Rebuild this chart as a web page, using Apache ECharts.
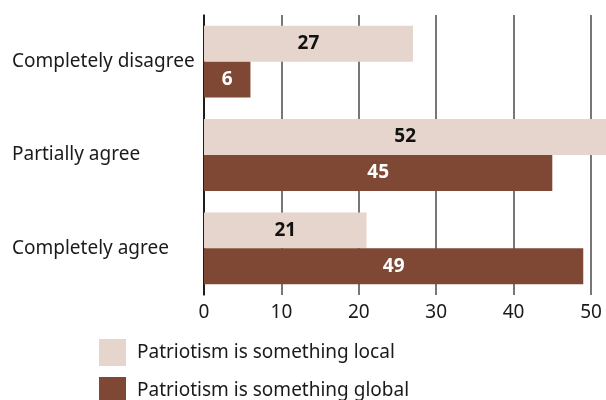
<!DOCTYPE html>
<html><head><meta charset="utf-8">
<script src="https://cdn.jsdelivr.net/npm/echarts@6/dist/echarts.min.js"></script>
<style>html,body{margin:0;padding:0;background:#fff}#c{width:606px;height:400px}</style>
</head><body><div id="c"></div>
<script>
const categories = ['Completely disagree', 'Partially agree', 'Completely agree'];
const localValues = [27, 52, 21];
const globalValues = [6, 45, 49];
const seriesNames = ['Patriotism is something local', 'Patriotism is something global'];
const xTicks = [0, 10, 20, 30, 40, 50];

const FONT = 'Noto Sans';
const chart = echarts.init(document.getElementById('c'), null, {renderer: 'canvas'});
chart.setOption({
  animation: false,
  textStyle: {fontFamily: FONT},
  grid: {left: 204, right: 15, top: 15, bottom: 105, containLabel: false},
  legend: {
    orient: 'vertical', left: 99, top: 339, height: 120, padding: 0,
    itemWidth: 27, itemHeight: 27, itemGap: 11, icon: 'rect',
    textStyle: {fontFamily: FONT, fontSize: 19, color: '#1a1a1a', padding: [0, 0, 0, 6]},
    data: seriesNames
  },
  xAxis: {
    type: 'value', min: xTicks[0], max: xTicks[xTicks.length - 1], interval: 10,
    axisLine: {show: false}, axisTick: {show: false},
    splitLine: {show: true, lineStyle: {color: '#4a4a4a', width: 1.5}},
    axisLabel: {fontFamily: FONT, fontSize: 19, color: '#1a1a1a', margin: 8}
  },
  yAxis: {
    type: 'category', data: categories, inverse: true,
    axisLine: {show: true, lineStyle: {color: '#000', width: 1.5}},
    axisTick: {show: false},
    axisLabel: {fontFamily: FONT, fontSize: 19, color: '#1a1a1a', align: 'left', margin: 192}
  },
  series: [
    {
      name: seriesNames[0], type: 'bar', data: localValues, clip: false,
      barGap: '0%', barCategoryGap: '23%',
      itemStyle: {color: '#e6d5cd'},
      label: {show: true, position: 'inside', fontFamily: FONT, fontSize: 19, fontWeight: 'bold', color: '#111'}
    },
    {
      name: seriesNames[1], type: 'bar', data: globalValues, clip: false,
      barGap: '0%', barCategoryGap: '23%',
      itemStyle: {color: '#7f4835'},
      label: {show: true, position: 'inside', fontFamily: FONT, fontSize: 19, fontWeight: 'bold', color: '#fff'}
    }
  ]
});
</script></body></html>
